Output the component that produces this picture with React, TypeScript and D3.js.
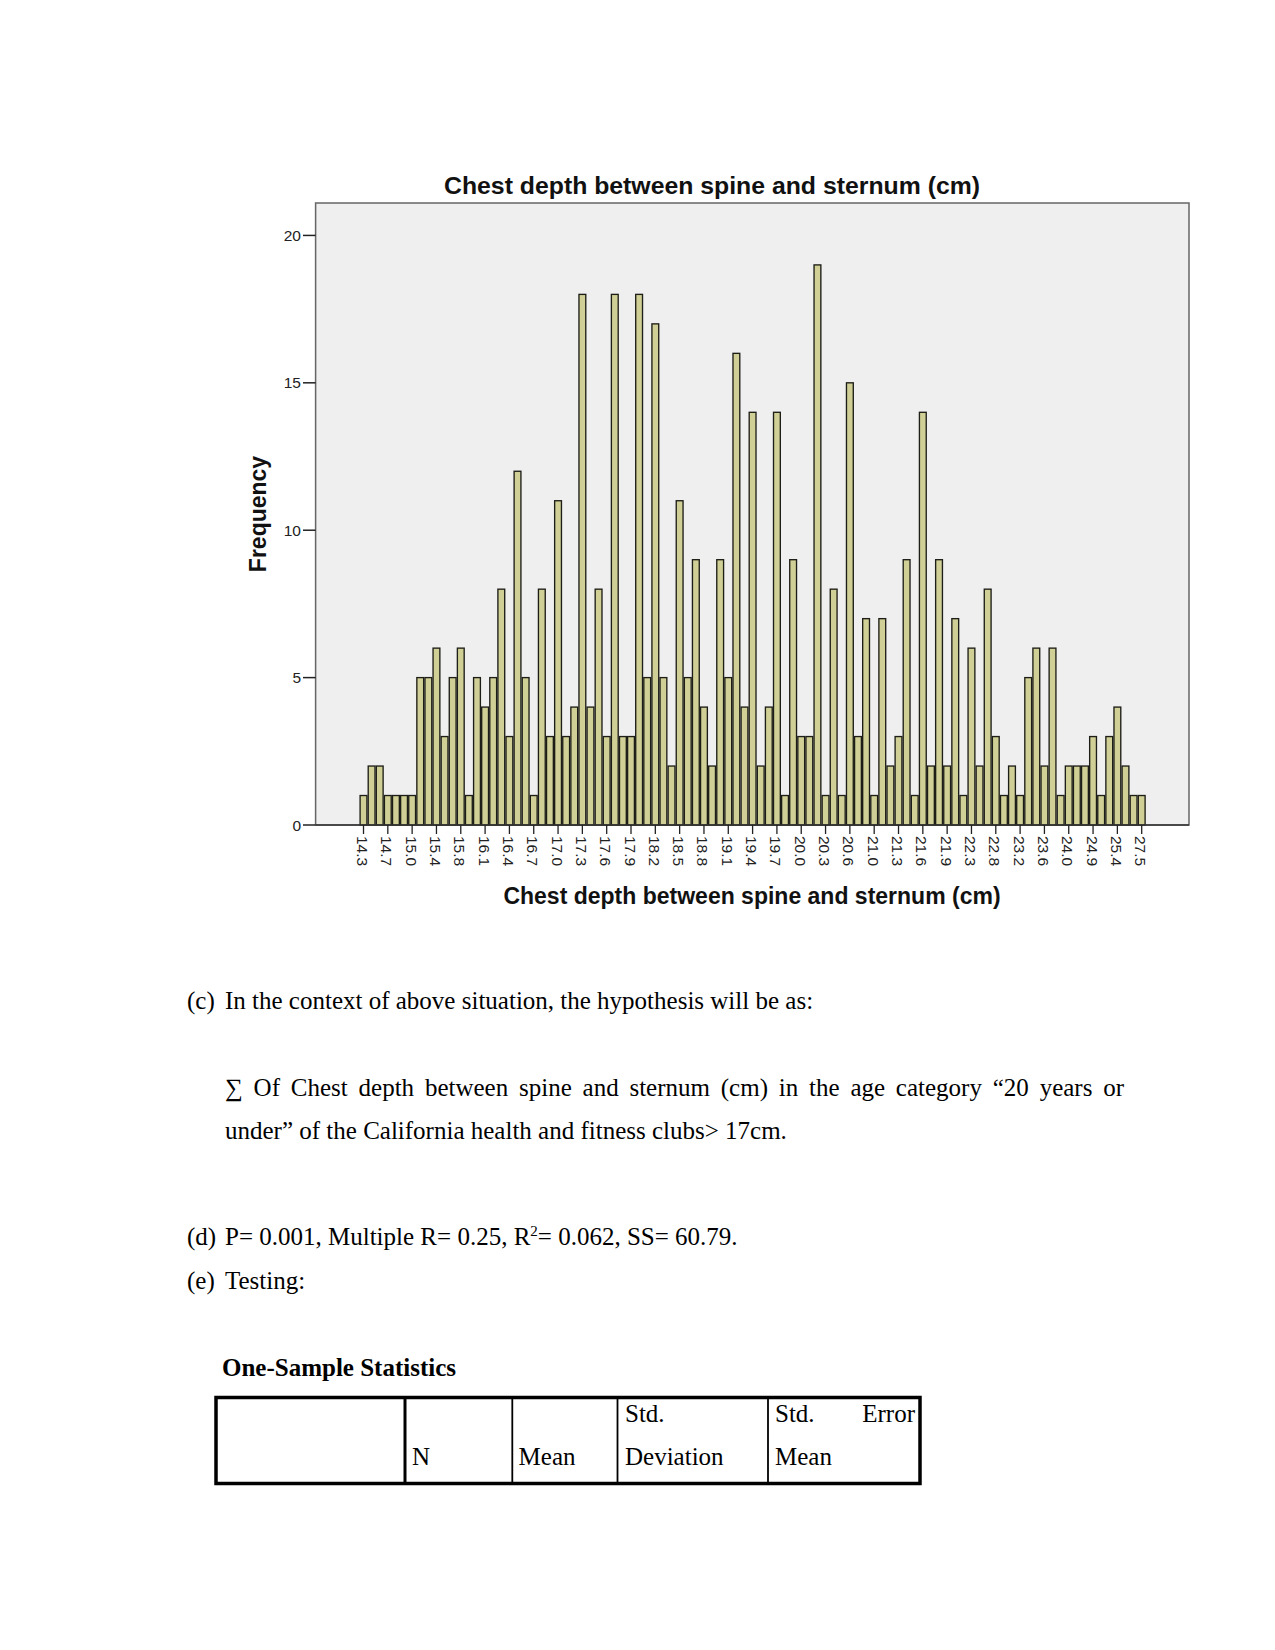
import React from "react";
import * as d3 from "d3";

const tickLabels = ["14.3","14.7","15.0","15.4","15.8","16.1","16.4","16.7","17.0","17.3","17.6","17.9","18.2","18.5","18.8","19.1","19.4","19.7","20.0","20.3","20.6","21.0","21.3","21.6","21.9","22.3","22.8","23.2","23.6","24.0","24.9","25.4","27.5"];

const frequencies = [
  1,2,2,1,1,1,1,5,5,6,
  3,5,6,1,5,4,5,8,3,12,
  5,1,8,3,11,3,4,18,4,8,
  3,18,3,3,18,5,17,5,2,11,
  5,9,4,2,9,5,16,4,14,2,
  4,14,1,9,3,3,19,1,8,1,
  15,3,7,1,7,2,3,9,1,14,
  2,9,2,7,1,6,2,8,3,1,
  2,1,5,6,2,6,1,2,2,2,
  3,1,3,4,2,1,1
];

const categories = frequencies.map((_, i) => (i % 3 === 0 ? tickLabels[i / 3] : "·" + i));
const yTicks = [0, 5, 10, 15, 20];

const chartTitle = "Chest depth between spine and sternum (cm)";
const xTitle = "Chest depth between spine and sternum (cm)";
const yTitle = "Frequency";

const line2Words = ["∑", "Of", "Chest", "depth", "between", "spine", "and", "sternum", "(cm)", "in", "the", "age", "category", "“20", "years", "or"];

const SERIF = "'Liberation Serif', 'Times New Roman', serif";
const SANS = "'Liberation Sans', Arial, sans-serif";

let ctx: CanvasRenderingContext2D | null = null;
function measure(text: string, font: string): number {
  if (!ctx) {
    const c = document.createElement("canvas");
    ctx = c.getContext("2d");
  }
  if (!ctx) return text.length * 10;
  ctx.font = font;
  return ctx.measureText(text).width;
}

function Justified({ words, x0, x1, y }: { words: string[]; x0: number; x1: number; y: number }) {
  const font = "25px 'Liberation Serif'";
  const widths = words.map((w) => measure(w, font));
  const total = widths.reduce((a, b) => a + b, 0);
  const gap = (x1 - x0 - total) / (words.length - 1);
  let x = x0;
  const out: JSX.Element[] = [];
  words.forEach((w, i) => {
    out.push(
      <text key={i} x={x} y={y} fontFamily={SERIF} fontSize={25}>
        {w}
      </text>
    );
    x += widths[i] + gap;
  });
  return <g>{out}</g>;
}

export default function App() {
  const frameL = 315.6, frameR = 1189, frameT = 203, frameB = 825;
  const x = d3.scaleBand<string>().domain(categories).range([359.45, 1145.75]).padding(0);
  const y = d3.scaleLinear().domain([0, 21.1]).range([frameB, frameT]);
  const bw = x.step() * 0.84;

  return (
    <svg width={1275} height={1650} style={{ position: "absolute", left: 0, top: 0, background: "#fff" }}>
      <rect x={0} y={0} width={1275} height={1650} fill="#fff" />
      {/* chart title */}
      <text x={712} y={193.5} textAnchor="middle" fontFamily={SANS} fontWeight="bold" fontSize={24.8} fill="#111">
        {chartTitle}
      </text>
      {/* plot frame */}
      <rect x={frameL} y={frameT} width={frameR - frameL} height={frameB - frameT} fill="#efefef" stroke="#666" strokeWidth={1.5} />
      {/* bars */}
      {frequencies.map((f, i) => {
        const cx = (x(categories[i]) as number) + x.step() / 2;
        return (
          <rect
            key={i}
            x={cx - bw / 2}
            y={y(f)}
            width={bw}
            height={frameB - y(f)}
            fill="#d0d096"
            stroke="#1e1e18"
            strokeWidth={1.35}
          />
        );
      })}
      {/* x axis line */}
      <line x1={frameL} x2={frameR} y1={frameB} y2={frameB} stroke="#333" strokeWidth={1.5} />
      {/* y ticks */}
      {yTicks.map((t) => (
        <g key={t}>
          <line x1={303} x2={frameL} y1={y(t)} y2={y(t)} stroke="#222" strokeWidth={1.5} />
          <text x={301} y={y(t)} textAnchor="end" dominantBaseline="central" fontFamily={SANS} fontSize={15.5} fill="#222">
            {t}
          </text>
        </g>
      ))}
      {/* x ticks */}
      {categories.map((c, i) => {
        if (i % 3 !== 0) return null;
        const cx = (x(c) as number) + x.step() / 2;
        return (
          <g key={c}>
            <line x1={cx} x2={cx} y1={frameB} y2={frameB + 9} stroke="#222" strokeWidth={1.3} />
            <text
              transform={`translate(${cx - 1},${frameB + 11}) rotate(90)`}
              textAnchor="start"
              dominantBaseline="central"
              fontFamily={SANS}
              fontSize={15.5}
              fill="#222"
            >
              {c}
            </text>
          </g>
        );
      })}
      {/* axis titles */}
      <text x={752} y={904} textAnchor="middle" fontFamily={SANS} fontWeight="bold" fontSize={23} fill="#111">
        {xTitle}
      </text>
      <text transform={`translate(266,514) rotate(-90)`} textAnchor="middle" fontFamily={SANS} fontWeight="bold" fontSize={23} fill="#111">
        {yTitle}
      </text>

      {/* document text */}
      <text x={187} y={1009} fontFamily={SERIF} fontSize={25}>(c)</text>
      <text x={225} y={1009} fontFamily={SERIF} fontSize={25}>In the context of above situation, the hypothesis will be as:</text>
      <Justified words={line2Words} x0={225} x1={1124} y={1096} />
      <text x={225} y={1139} fontFamily={SERIF} fontSize={25}>under” of the California health and fitness clubs&gt; 17cm.</text>
      <text x={187} y={1245} fontFamily={SERIF} fontSize={25}>(d)</text>
      <text x={225} y={1245} fontFamily={SERIF} fontSize={25}>
        P= 0.001, Multiple R= 0.25, R<tspan fontSize={15} dy={-9}>2</tspan>
        <tspan dy={9}>= 0.062, SS= 60.79.</tspan>
      </text>
      <text x={187} y={1289} fontFamily={SERIF} fontSize={25}>(e)</text>
      <text x={225} y={1289} fontFamily={SERIF} fontSize={25}>Testing:</text>
      <text x={222} y={1376} fontFamily={SERIF} fontSize={25} fontWeight="bold">One-Sample Statistics</text>

      {/* table */}
      <rect x={216} y={1397.5} width={704} height={86} fill="none" stroke="#000" strokeWidth={3.5} />
      {[405, 512.3, 617.5, 768].map((cx, i) => (
        <line key={i} x1={cx} x2={cx} y1={1397.5} y2={1483.5} stroke="#000" strokeWidth={i === 0 ? 3 : 1.8} />
      ))}
      <text x={625} y={1422} fontFamily={SERIF} fontSize={25}>Std.</text>
      <text x={775} y={1422} fontFamily={SERIF} fontSize={25}>Std.</text>
      <text x={915} y={1422} textAnchor="end" fontFamily={SERIF} fontSize={25}>Error</text>
      <text x={412} y={1465} fontFamily={SERIF} fontSize={25}>N</text>
      <text x={518.6} y={1465} fontFamily={SERIF} fontSize={25}>Mean</text>
      <text x={625} y={1465} fontFamily={SERIF} fontSize={25}>Deviation</text>
      <text x={775} y={1465} fontFamily={SERIF} fontSize={25}>Mean</text>
    </svg>
  );
}
